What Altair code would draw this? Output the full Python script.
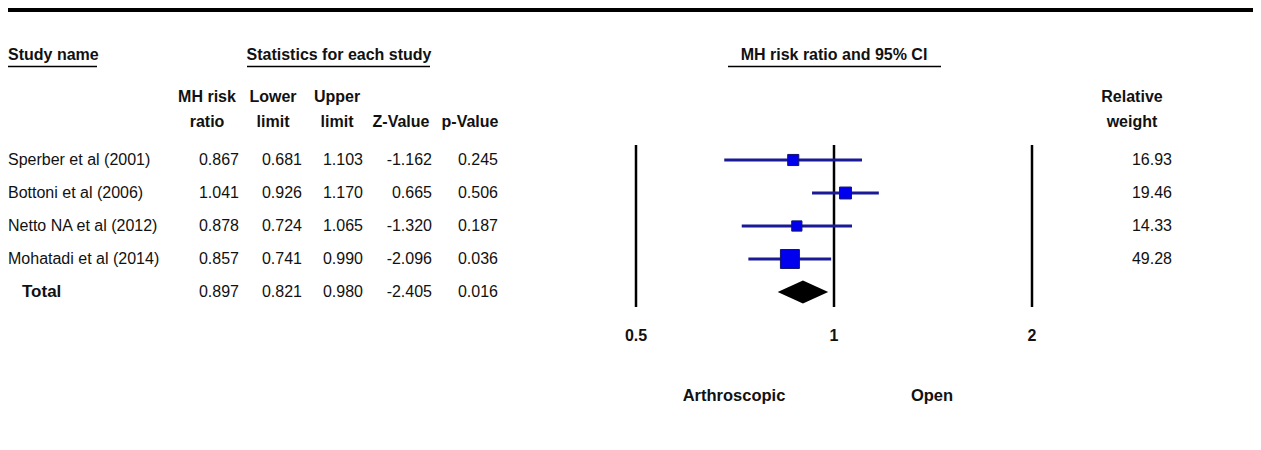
import altair as alt
import pandas as pd

# ---------------- data ----------------
studies = ["Sperber et al (2001)", "Bottoni et al (2006)",
           "Netto NA et al (2012)", "Mohatadi et al (2014)"]
risk_ratio = [0.867, 1.041, 0.878, 0.857]
lower_limit = [0.681, 0.926, 0.724, 0.741]
upper_limit = [1.103, 1.170, 1.065, 0.990]
z_value = [-1.162, 0.665, -1.320, -2.096]
p_value = [0.245, 0.506, 0.187, 0.036]
rel_weight = [16.93, 19.46, 14.33, 49.28]

total_label = "Total"
total_rr = 0.897
total_lower = 0.821
total_upper = 0.980
total_z = -2.405
total_p = 0.016

axis_ticks = [0.5, 1, 2]
axis_tick_labels = ["0.5", "1", "2"]

# ---------------- tables ----------------
n = len(studies)
study_df = pd.DataFrame({
    "row": list(range(n)),
    "study": studies,
    "rr": risk_ratio,
    "lo": lower_limit,
    "hi": upper_limit,
    "w": rel_weight,
})
study_df["w_s"] = [f"{v:.2f}" for v in rel_weight]

all_df = pd.DataFrame({"row": list(range(n + 1))})
for key, vals in [("rr", risk_ratio + [total_rr]), ("lo", lower_limit + [total_lower]),
                  ("hi", upper_limit + [total_upper]), ("z", z_value + [total_z]),
                  ("p", p_value + [total_p])]:
    all_df[key + "_s"] = [f"{v:.3f}" for v in vals]

total_df = pd.DataFrame({"row": [n], "study": [total_label]})
tick_df = pd.DataFrame({"v": axis_ticks, "lab": axis_tick_labels})

HALF = 0.35  # diamond half height in row units
diamond_df = pd.DataFrame({
    "x": [total_lower, total_rr, total_upper],
    "y": [n, n - HALF, n],
    "y2": [n, n + HALF, n],
})

# ---------------- layout ----------------
W, H = 1245, 434
FONT = "Liberation Sans, Arial, sans-serif"
TXT = "#111111"

xs = alt.Scale(type="log", base=2, domain=[0.5, 2], range=[628, 1024], nice=False)
ys = alt.Scale(domain=[0, n], range=[152, 284], nice=False, zero=False)
X = lambda f: alt.X(f, type="quantitative", scale=xs, axis=None)
Y = lambda f: alt.Y(f, type="quantitative", scale=ys, axis=None)

layers = []

def label(text, x, y, size=16, bold=True, align="center", baseline="alphabetic"):
    return alt.Chart(pd.DataFrame({"t": [text]})).mark_text(
        font=FONT, fontSize=size, fontWeight="bold" if bold else "normal",
        align=align, baseline=baseline, color=TXT
    ).encode(x=alt.value(x), y=alt.value(y), text="t:N")

def hline(x1, x2, y, w=1.5):
    return alt.Chart(pd.DataFrame({"a": [0]})).mark_rule(
        color="black", strokeWidth=w
    ).encode(x=alt.value(x1), x2=alt.value(x2), y=alt.value(y))

# top thick line
layers.append(hline(0, W, 2, 4))

# section headers
layers.append(label("Study name", 0, 51.5, align="left"))
layers.append(hline(0, 89, 58.5))
layers.append(label("Statistics for each study", 331, 51.5))
layers.append(hline(239, 422, 58.5))
layers.append(label("MH risk ratio and 95% CI", 826, 51.5))
layers.append(hline(720, 933, 58.5))

# column headers
for txt1, txt2, cx in [("MH risk", "ratio", 199), ("Lower", "limit", 265),
                       ("Upper", "limit", 329), ("Relative", "weight", 1124)]:
    layers.append(label(txt1, cx, 94))
    layers.append(label(txt2, cx, 119))
layers.append(label("Z-Value", 393, 119))
layers.append(label("p-Value", 462, 119))

# study names
layers.append(alt.Chart(study_df).mark_text(
    font=FONT, fontSize=16, align="left", baseline="middle", color=TXT
).encode(x=alt.value(0), y=Y("row"), text="study:N"))
layers.append(alt.Chart(total_df).mark_text(
    font=FONT, fontSize=17, fontWeight="bold", align="left", baseline="middle", color=TXT
).encode(x=alt.value(14), y=Y("row"), text="study:N"))

# numeric columns
for field, xr, df in [("rr_s", 231, all_df), ("lo_s", 294, all_df),
                      ("hi_s", 355, all_df), ("z_s", 424, all_df),
                      ("p_s", 490, all_df), ("w_s", 1164, study_df)]:
    layers.append(alt.Chart(df).mark_text(
        font=FONT, fontSize=16, align="right", baseline="middle", color=TXT
    ).encode(x=alt.value(xr), y=Y("row"), text=f"{field}:N"))

# reference vertical lines
layers.append(alt.Chart(tick_df).mark_rule(color="black", strokeWidth=2.5).encode(
    x=X("v"), y=alt.value(137), y2=alt.value(299)))
layers.append(alt.Chart(tick_df).mark_text(
    font=FONT, fontSize=16, fontWeight="bold", baseline="middle", color=TXT
).encode(x=X("v"), y=alt.value(328), text="lab:N"))

# CI lines
layers.append(alt.Chart(study_df).mark_rule(color="#1a1a96", strokeWidth=3).encode(
    x=X("lo"), x2="hi:Q", y=Y("row")))
# squares
layers.append(alt.Chart(study_df).mark_square(
    fill="#0000ee", stroke="#14146e", strokeWidth=1, opacity=1, filled=True
).encode(
    x=X("rr"), y=Y("row"),
    size=alt.Size("w:Q", scale=alt.Scale(domain=[0, 100], range=[0, 730]), legend=None)))
# diamond
layers.append(alt.Chart(diamond_df).mark_area(color="black", orient="vertical").encode(
    x=X("x"), y=Y("y"), y2="y2:Q"))

# favours labels
layers.append(label("Arthroscopic", 726, 388, size=16.5, baseline="middle"))
layers.append(label("Open", 924, 388, size=16.5, baseline="middle"))

chart = alt.layer(*layers).properties(
    width=W, height=H, padding=0, autosize=alt.AutoSizeParams(type="none"),
    background="white"
).configure_view(stroke=None, strokeWidth=0)

chart.save("out.html", embed_options={"renderer": "svg", "actions": False})
